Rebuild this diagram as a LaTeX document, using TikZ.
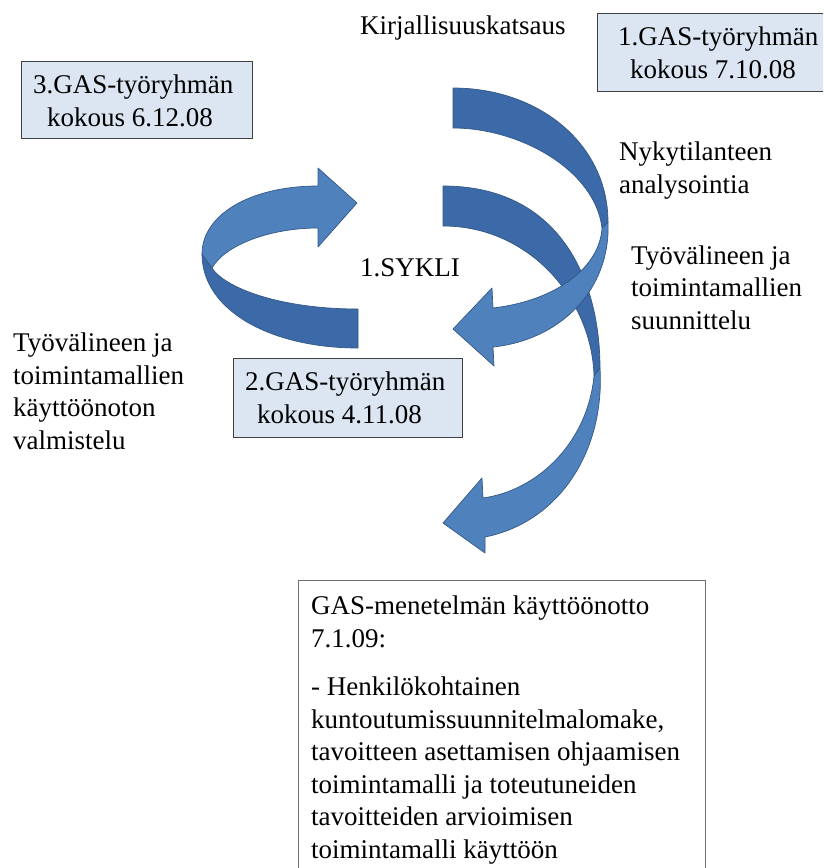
\documentclass[tikz,border=0pt]{standalone}
\usepackage{fontspec}
\setmainfont{Liberation Serif}
\definecolor{backblue}{RGB}{60,105,167}
\definecolor{frontblue}{RGB}{79,129,189}
\definecolor{edgeblue}{RGB}{52,88,134}
\definecolor{meetfill}{RGB}{220,230,242}
\definecolor{meetedge}{RGB}{64,64,64}
\definecolor{planedge}{RGB}{110,110,110}
\begin{document}
\begin{tikzpicture}[x=1pt,y=-1pt,
  % multi-line labels are placed by the baseline of their last line
  lbl/.style={anchor=base west, inner sep=0pt, align=left,
              font=\fontsize{27}{32.5}\selectfont},
  meetbox/.style={draw=meetedge, line width=0.9pt, fill=meetfill},
  planbox/.style={draw=planedge, line width=1pt, fill=white},
  bandback/.style={fill=backblue, draw=edgeblue, line width=0.7pt, line join=round},
  bandfront/.style={fill=frontblue, draw=edgeblue, line width=0.7pt, line join=round}]

\useasboundingbox (0,0) rectangle (823,868);
\clip (0,0) rectangle (823,868);

% meeting boxes
\draw[meetbox] (597,13) rectangle (830,91);
\draw[meetbox] (21,61) rectangle (252,138);
\draw[meetbox] (233,358) rectangle (462,437);
\draw[planbox] (298,580) rectangle (705,880);

% left cycle arrow: back band, then front band with head
\path[bandback] (358,348) .. controls (270,348) and (202,310) .. (202,254)
  -- (212,268) .. controls (225,288) and (280,309) .. (358,309) -- cycle;
\path[bandfront] (202,254) .. controls (202,215) and (250,186) .. (318,186)
  -- (318,168) -- (357,203) -- (318,247) -- (318,228)
  .. controls (270,228) and (225,245) .. (212,268) -- cycle;

% lower right arrow
\path[bandback] (443,186) .. controls (560,186) and (600,280) .. (600,368)
  -- (594,376) .. controls (592,300) and (530,226) .. (443,226) -- cycle;
\path[bandfront] (600,368) .. controls (605,450) and (560,522) .. (485,537)
  -- (485,553) -- (443,523) -- (482,478) -- (483,498)
  .. controls (540,490) and (588,440) .. (594,376) -- cycle;

% upper right arrow
\path[bandback] (453,88) .. controls (540,88) and (608,145) .. (608,222)
  -- (602,228) .. controls (595,170) and (520,128) .. (453,128) -- cycle;
\path[bandfront] (608,222) .. controls (611,290) and (560,340) .. (493,347)
  -- (494,366) -- (453,329) -- (492,288) -- (493,308)
  .. controls (560,300) and (600,265) .. (602,228) -- cycle;

% texts
\node[lbl] (m1) at (618,78) {1.GAS-työryhmän\\\hspace*{12pt}kokous 7.10.08};
\node[lbl] (m3) at (33,126) {3.GAS-työryhmän\\\hspace*{14pt}kokous 6.12.08};
\node[lbl] (m2) at (245,423) {2.GAS-työryhmän\\\hspace*{12pt}kokous 4.11.08};

\node[lbl] (lit) at (360,34) {Kirjallisuuskatsaus};
\node[lbl] (ana) at (619,193) {Nykytilanteen\\analysointia};
\node[lbl] (des) at (631,329) {Työvälineen ja\\toimintamallien\\suunnittelu};
\node[lbl] (cyc) at (360,276) {1.SYKLI};
\node[lbl] (prep) at (13,449) {Työvälineen ja\\toimintamallien\\käyttöönoton\\valmistelu};

\node[lbl] (intro) at (311,858) {GAS-menetelmän käyttöönotto\\7.1.09:\\[16pt]- Henkilökohtainen\\kuntoutumissuunnitelmalomake,\\tavoitteen asettamisen ohjaamisen\\toimintamalli ja toteutuneiden\\tavoitteiden arvioimisen\\toimintamalli käyttöön};
\end{tikzpicture}
\end{document}
